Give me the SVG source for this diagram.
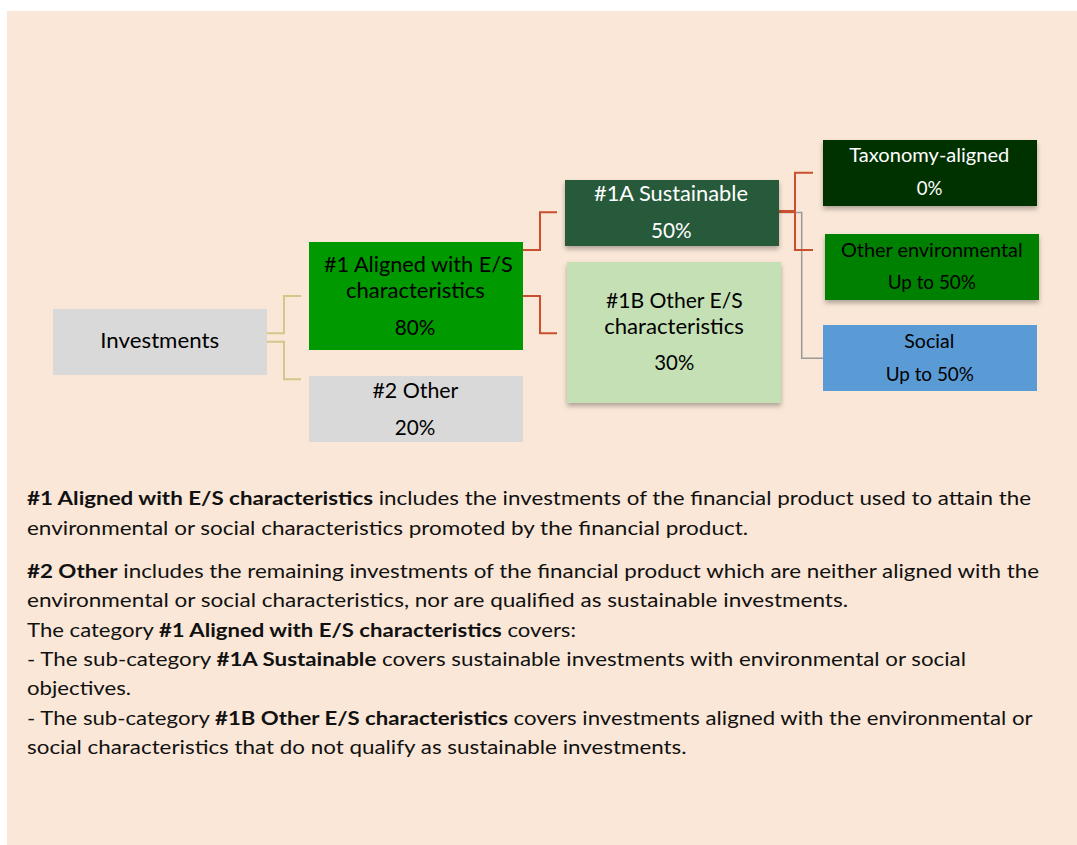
<svg xmlns="http://www.w3.org/2000/svg" width="1077" height="845" viewBox="0 0 1077 845">
<defs>
<style>
.lbl{font-family:Lato,"Open Sans","Liberation Sans",sans-serif;text-anchor:middle}
.big{font-size:21px}
.sm{font-size:18.5px}
.blk{fill:#000}
.wht{fill:#fff}
.body{font-family:Lato,"Open Sans","Liberation Sans",sans-serif;font-size:19.5px;fill:#111}
.b{font-weight:700}
.tan{fill:none;stroke:#D5C68A;stroke-width:2}
.red{fill:none;stroke:#C9502F;stroke-width:2}
.gry{fill:none;stroke:#9A9A9A;stroke-width:1.5}
</style>
<filter id="sh" x="-10%" y="-20%" width="120%" height="150%">
<feDropShadow dx="0" dy="3" stdDeviation="2.5" flood-color="#000" flood-opacity="0.3"/>
</filter>
</defs>
<rect x="0" y="0" width="1077" height="845" fill="#fff"/>
<rect x="7" y="11" width="1070" height="834" fill="#FAE7D7"/>

<g id="connectors">
<path class="tan" d="M267,333.3 H284 V296 H301"/>
<path class="tan" d="M267,341.7 H284 V379.3 H301"/>
<path class="red" d="M523,250 H540 V212.3 H557"/>
<path class="red" d="M523,296 H540 V333.3 H557"/>
<path class="gry" d="M779,212.5 H801.7 V358.3 H823"/>
<path class="red" d="M779,211 H795 V172.7 H813"/>
<path class="red" d="M779,212 H795 V250 H813"/>
</g>

<g id="investments">
<rect x="53" y="309" width="214" height="66" fill="#D9D9D9"/>
<text class="lbl big blk" x="159.7" y="348.3" textLength="118.8" lengthAdjust="spacingAndGlyphs">Investments</text>
</g>

<g id="aligned">
<rect x="309" y="242" width="214" height="108" fill="#009900"/>
<text class="lbl big blk" x="418.4" y="271.7" textLength="188.8" lengthAdjust="spacingAndGlyphs">#1 Aligned with E/S</text>
<text class="lbl big blk" x="415.4" y="298.3" textLength="139" lengthAdjust="spacingAndGlyphs">characteristics</text>
<text class="lbl big blk" x="415" y="335" textLength="40.6" lengthAdjust="spacingAndGlyphs">80%</text>
</g>

<g id="other">
<rect x="309" y="376" width="214" height="66" fill="#D9D9D9"/>
<text class="lbl big blk" x="415.4" y="398.3" textLength="86" lengthAdjust="spacingAndGlyphs">#2 Other</text>
<text class="lbl big blk" x="415" y="435" textLength="40.6" lengthAdjust="spacingAndGlyphs">20%</text>
</g>

<g id="sustainable">
<rect x="565" y="180" width="214" height="66" fill="#275A3B" filter="url(#sh)"/>
<text class="lbl big wht" x="671" y="200.7" textLength="154" lengthAdjust="spacingAndGlyphs">#1A Sustainable</text>
<text class="lbl big wht" x="671.3" y="238.3" textLength="40.7" lengthAdjust="spacingAndGlyphs">50%</text>
</g>

<g id="otheres">
<rect x="567" y="262" width="214" height="141" fill="#C5E0B4" filter="url(#sh)"/>
<text class="lbl big blk" x="674.3" y="308.3" textLength="136.7" lengthAdjust="spacingAndGlyphs">#1B Other E/S</text>
<text class="lbl big blk" x="674" y="334" textLength="139.7" lengthAdjust="spacingAndGlyphs">characteristics</text>
<text class="lbl big blk" x="674.3" y="370" textLength="40" lengthAdjust="spacingAndGlyphs">30%</text>
</g>

<g id="taxonomy">
<rect x="823" y="140" width="214" height="66" fill="#003300" filter="url(#sh)"/>
<text class="lbl sm wht" x="929.3" y="161.7" textLength="160" lengthAdjust="spacingAndGlyphs">Taxonomy-aligned</text>
<text class="lbl sm wht" x="929.5" y="195" textLength="25.7" lengthAdjust="spacingAndGlyphs">0%</text>
</g>

<g id="otherenv">
<rect x="825" y="234" width="214" height="66" fill="#008000" filter="url(#sh)"/>
<text class="lbl sm blk" x="931.8" y="256.7" textLength="181.7" lengthAdjust="spacingAndGlyphs">Other environmental</text>
<text class="lbl sm blk" x="931.8" y="289" textLength="88.3" lengthAdjust="spacingAndGlyphs">Up to 50%</text>
</g>

<g id="social">
<rect x="823" y="325" width="214" height="66" fill="#5B9BD5"/>
<text class="lbl sm blk" x="929.3" y="348.3" textLength="50" lengthAdjust="spacingAndGlyphs">Social</text>
<text class="lbl sm blk" x="929.8" y="380.7" textLength="88.3" lengthAdjust="spacingAndGlyphs">Up to 50%</text>
</g>

<g id="legend">
<text class="body" x="27" y="505" textLength="1004" lengthAdjust="spacingAndGlyphs"><tspan class="b">#1 Aligned with E/S characteristics</tspan> includes the investments of the financial product used to attain the</text>
<text class="body" x="27" y="535" textLength="721" lengthAdjust="spacingAndGlyphs">environmental or social characteristics promoted by the financial product.</text>
<text class="body" x="27" y="577.5" textLength="1012" lengthAdjust="spacingAndGlyphs"><tspan class="b">#2 Other</tspan> includes the remaining investments of the financial product which are neither aligned with the</text>
<text class="body" x="27" y="607" textLength="821" lengthAdjust="spacingAndGlyphs">environmental or social characteristics, nor are qualified as sustainable investments.</text>
<text class="body" x="27" y="636.5" textLength="549" lengthAdjust="spacingAndGlyphs">The category <tspan class="b">#1 Aligned with E/S characteristics</tspan> covers:</text>
<text class="body" x="27" y="666" textLength="939" lengthAdjust="spacingAndGlyphs">- The sub-category <tspan class="b">#1A Sustainable</tspan> covers sustainable investments with environmental or social</text>
<text class="body" x="27" y="695" textLength="104" lengthAdjust="spacingAndGlyphs">objectives.</text>
<text class="body" x="27" y="724.5" textLength="1005.6" lengthAdjust="spacingAndGlyphs">- The sub-category <tspan class="b">#1B Other E/S characteristics</tspan> covers investments aligned with the environmental or</text>
<text class="body" x="27" y="754" textLength="659.6" lengthAdjust="spacingAndGlyphs">social characteristics that do not qualify as sustainable investments.</text>
</g>
</svg>
